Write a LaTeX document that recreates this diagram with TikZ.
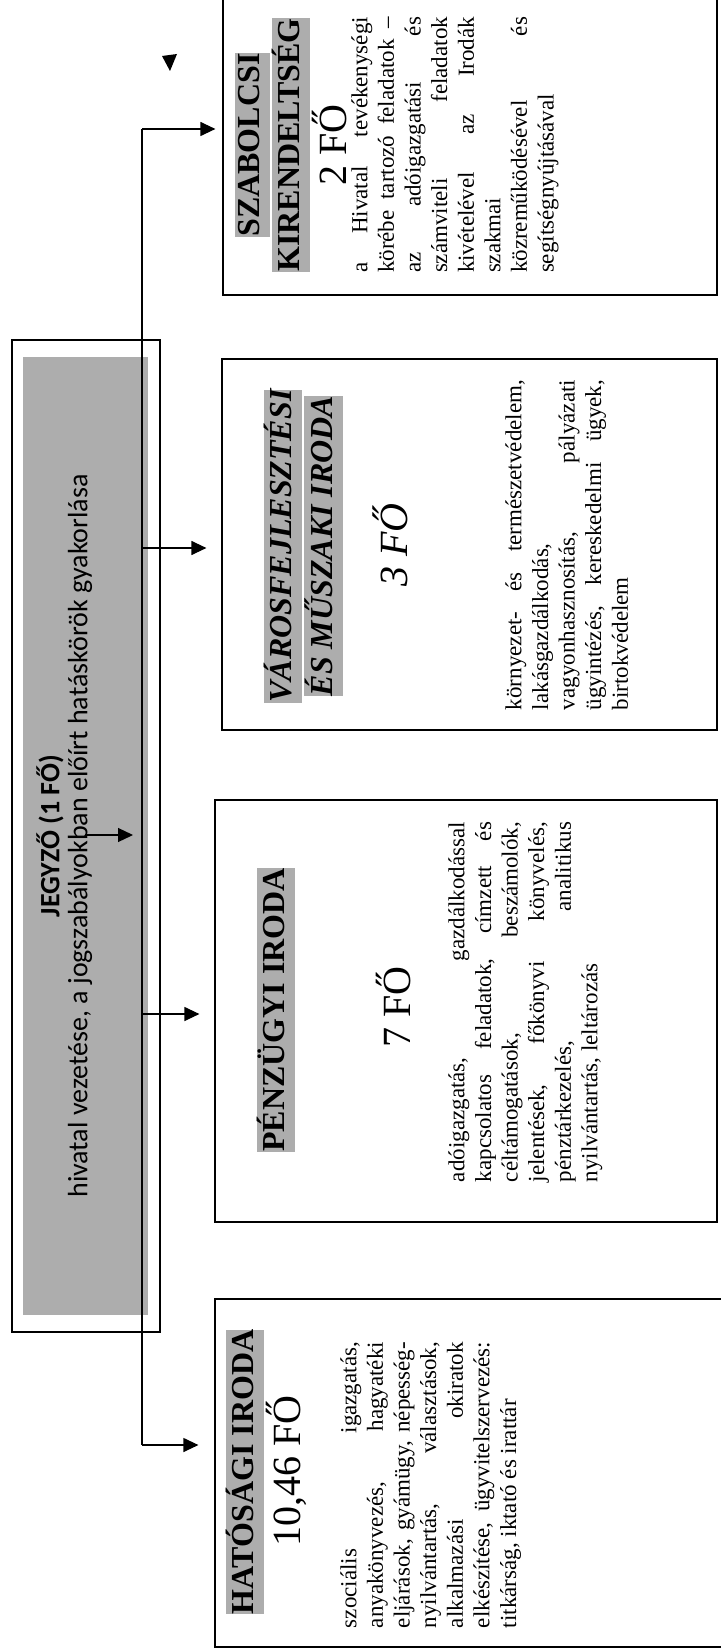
\documentclass[tikz,border=0pt]{standalone}
\usepackage{fontspec}
\setmainfont{Liberation Serif}
\newfontfamily\jegyzofont{Carlito}
\usetikzlibrary{arrows.meta}
\usetikzlibrary{fit}

\definecolor{hlgray}{gray}{0.68}
\definecolor{jgray}{gray}{0.68}
\newcommand{\hilite}[1]{{\setlength{\fboxsep}{0pt}\colorbox{hlgray}{\strut #1}}}

\tikzset{
	unitbox/.style={draw, line width=0.6pt, inner sep=0pt},
	conn/.style={line width=0.6pt},
	arr/.style={conn, -{Triangle[length=7.5pt,width=7pt]}},
	headtext/.style={rotate=90, anchor=north, inner sep=0pt, align=center, font=\fontsize{16}{17.5}\selectfont\bfseries},
	counttext/.style={rotate=90, anchor=north, inner sep=0pt, font=\fontsize{20}{22}\selectfont},
	bodytext/.style={rotate=90, anchor=north, inner sep=0pt, align=justify, font=\fontsize{11.5}{13.3}\selectfont},
}

\begin{document}
\begin{tikzpicture}[x=0.5pt, y=-0.5pt]
	\useasboundingbox (0,0) rectangle (721,1652);
	
	% jegyzo
	\node [unitbox, fit={(12,340) (160,1332)}] (jegyzo) {};
	\node [fill=jgray, inner sep=0pt, fit={(23,357) (148,1315)}] (jegyzofill) {};
	\node [rotate=90, anchor=north, inner sep=0pt, align=center, font=\jegyzofont\fontsize{14}{14}\selectfont] at (36, 836) (jegyzotext) {\textbf{JEGYZŐ (1 FŐ)}\\hivatal vezetése, a jogszabályokban előírt hatáskörök gyakorlása};
	
	% irodak
	\node [unitbox, fit={(223,-5) (717,295)}] (szab) {};
	\node [unitbox, fit={(222,359) (717,730)}] (varos) {};
	\node [unitbox, fit={(215,800) (717,1222)}] (penz) {};
	\node [unitbox, fit={(215,1299) (730,1647)}] (hatosag) {};
	
	\node [headtext] at (235, 145) (szab_head) {\hilite{SZABOLCSI}\\\hilite{KIRENDELTSÉG}};
	\node [counttext] at (312, 145) (szab_count) {2 FŐ};
	\node [bodytext, text width=128pt] at (351, 145) (szab_body) {a\hfill Hivatal\hfill tevékenységi\\
		körébe\hfill tartozó\hfill feladatok\hfill –\\
		az\hfill adóigazgatási\hfill és\\
		számviteli\hfill feladatok\\
		kivételével\hfill az\hfill Irodák\\
		szakmai\\
		közreműködésével\hfill és\\
		segítségnyújtásával};
	
	\node [headtext, font=\fontsize{16}{17.5}\selectfont\bfseries\itshape] at (264, 546) (varos_head) {\hilite{VÁROSFEJLESZTÉSI}\\\hilite{ÉS MŰSZAKI IRODA}};
	\node [counttext, font=\fontsize{20}{22}\selectfont\itshape] at (372, 545) (varos_count) {3 FŐ};
	\node [bodytext, text width=165pt] at (505, 545) (varos_body) {környezet-\hfill és\hfill természetvédelem,\\
		lakásgazdálkodás,\\
		vagyonhasznosítás,\hfill pályázati\\
		ügyintézés,\hfill kereskedelmi\hfill ügyek,\\
		birtokvédelem};
	
	\node [headtext] at (257, 1010) (penz_head) {\hilite{PÉNZÜGYI IRODA}};
	\node [counttext] at (376, 1007) (penz_count) {7 FŐ};
	\node [bodytext, text width=180pt] at (448, 1002) (penz_body) {adóigazgatás,\hfill gazdálkodással\\
		kapcsolatos\hfill feladatok,\hfill címzett\hfill és\\
		céltámogatások,\hfill beszámolók,\\
		jelentések,\hfill főkönyvi\hfill könyvelés,\\
		pénztárkezelés,\hfill analitikus\\
		nyilvántartás, leltározás};
	
	\node [headtext] at (226, 1472) (hatosag_head) {\hilite{HATÓSÁGI IRODA}};
	\node [counttext] at (266, 1471) (hatosag_count) {10,46 FŐ};
	\node [bodytext, text width=143pt] at (340, 1485) (hatosag_body) {szociális\hfill igazgatás,\\
		anyakönyvezés,\hfill hagyatéki\\
		eljárások,\hfill gyámügy,\hfill népesség-\\
		nyilvántartás,\hfill választások,\\
		alkalmazási\hfill okiratok\\
		elkészítése,\hfill ügyvitelszervezés:\\
		titkárság, iktató és irattár};
	
	% vonalak
	\coordinate (trunkTop) at (142, 129);
	\coordinate (tapVaros) at (142, 548);
	\coordinate (tapPenz) at (142, 1014);
	\coordinate (trunkBot) at (142, 1445);
	\draw [conn] (trunkTop) -- (trunkBot);
	\draw [arr, shorten >=3.5pt] (trunkTop) -- (trunkTop -| szab.west);
	\draw [arr, shorten >=7.5pt] (tapVaros) -- (tapVaros -| varos.west);
	\draw [arr, shorten >=7.5pt] (tapPenz) -- (tapPenz -| penz.west);
	\draw [arr, shorten >=8pt] (trunkBot) -- (trunkBot -| hatosag.west);
	
	\coordinate (jgTail) at (85, 835);
	\coordinate (jgTip) at (133, 835);
	\draw [arr] (jgTail) -- (jgTip);
	
	\coordinate (strayL) at (162, 56);
	\coordinate (strayR) at (177, 54);
	\coordinate (strayTip) at (170, 71);
	\fill (strayL) -- (strayR) -- (strayTip) -- cycle;
	
\end{tikzpicture}
\end{document}
